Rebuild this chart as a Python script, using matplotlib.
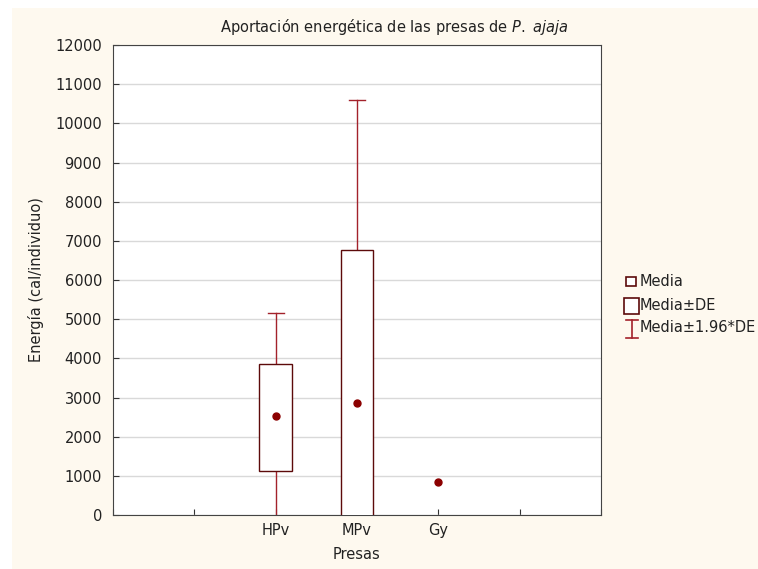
import numpy as np
import matplotlib.pyplot as plt
from matplotlib.patches import Rectangle
from matplotlib.lines import Line2D

# data (cal/individuo)
presas = ['HPv', 'MPv', 'Gy']
media = [2535, 2870, 840]
caja_inf = [1135, -1010, 840]      # Media - DE
caja_sup = [3850, 6760, 840]       # Media + DE
bigote_inf = [-140, -4800, 840]    # Media - 1.96*DE
bigote_sup = [5170, 10600, 840]    # Media + 1.96*DE

plt.rcParams['font.family'] = ['DejaVu Sans']
plt.rcParams['mathtext.fontset'] = 'dejavusans'
plt.rcParams['text.color'] = '#222222'
plt.rcParams['axes.labelcolor'] = '#222222'
plt.rcParams['xtick.labelcolor'] = '#222222'
plt.rcParams['ytick.labelcolor'] = '#222222'
FS = 10.5

W, H = 758, 569
fig = plt.figure(figsize=(W / 100, H / 100), dpi=100, facecolor='white')
# cream panel behind everything
fig.patches.append(Rectangle((12 / W, 0), 1 - 12 / W, 1 - 8 / H, transform=fig.transFigure,
                             facecolor='#fef9ef', edgecolor='none', zorder=-10))

ax = fig.add_axes([113 / W, 1 - 515 / H, (601 - 113) / W, (515 - 45) / H])
ax.set_facecolor('white')

box_col = '#5c0a0a'
whisk_col = '#a3222b'
dot_col = '#8b0000'
pos = np.arange(1, len(presas) + 1)
bw = 0.4

for x, m, lo, hi, wlo, whi in zip(pos, media, caja_inf, caja_sup, bigote_inf, bigote_sup):
    if hi > lo:
        ax.plot([x, x], [hi, whi], color=whisk_col, lw=1, zorder=2)
        ax.plot([x, x], [wlo, lo], color=whisk_col, lw=1, zorder=2)
        ax.plot([x - bw / 4, x + bw / 4], [whi, whi], color=whisk_col, lw=1, zorder=2)
        ax.plot([x - bw / 4, x + bw / 4], [wlo, wlo], color=whisk_col, lw=1, zorder=2)
        ax.add_patch(Rectangle((x - bw / 2, lo), bw, hi - lo, facecolor='white',
                               edgecolor=box_col, lw=1, zorder=3))
    ax.plot(x, m, 'o', color=dot_col, ms=5, zorder=4)

ax.set_xlim(-1, 5)
ax.set_ylim(0, 12000)
ax.set_xticks(np.arange(-1, 6))
ax.set_xticklabels([''] * 2 + presas + [''] * 2)
ax.set_yticks(np.arange(0, 12001, 1000))
ax.yaxis.grid(True, color='#d9d9d9', lw=1)
ax.set_axisbelow(True)
ax.tick_params(labelsize=FS, length=4, direction='in', color='#333333')
ax.tick_params(axis='y', pad=8)
ax.tick_params(axis='x', pad=6)
for sp in ax.spines.values():
    sp.set_color('#444444')

ax.set_xlabel('Presas', fontsize=FS, labelpad=6)
ax.set_ylabel('Energía (cal/individuo)', fontsize=FS, labelpad=8)


# title and legend placed by hand, in pixel positions of the figure
def px(x, y):
    return x / W, 1 - y / H


fig.text(*px(394, 27), r'Aportación energética de las presas de $\it{P.\ ajaja}$',
         fontsize=FS, ha='center', va='center')

fig.add_artist(Rectangle(px(626, 286), 10 / W, 9 / H, transform=fig.transFigure,
                         facecolor='white', edgecolor=box_col, lw=1.2))
fig.add_artist(Rectangle(px(624, 314), 15 / W, 16 / H, transform=fig.transFigure,
                         facecolor='white', edgecolor=box_col, lw=1.2))
for xs, ys in [((632, 632), (320, 338)), ((626, 638), (320, 320)), ((626, 638), (338, 338))]:
    fig.add_artist(Line2D([v / W for v in xs], [1 - v / H for v in ys],
                          transform=fig.transFigure, color=whisk_col, lw=1.2))
for label, y in [('Media', 282), ('Media±DE', 305), ('Media±1.96*DE', 328)]:
    fig.text(*px(640, y), label, fontsize=FS, va='center', ha='left')

fig.savefig('out.png', dpi=100, facecolor=fig.get_facecolor())
